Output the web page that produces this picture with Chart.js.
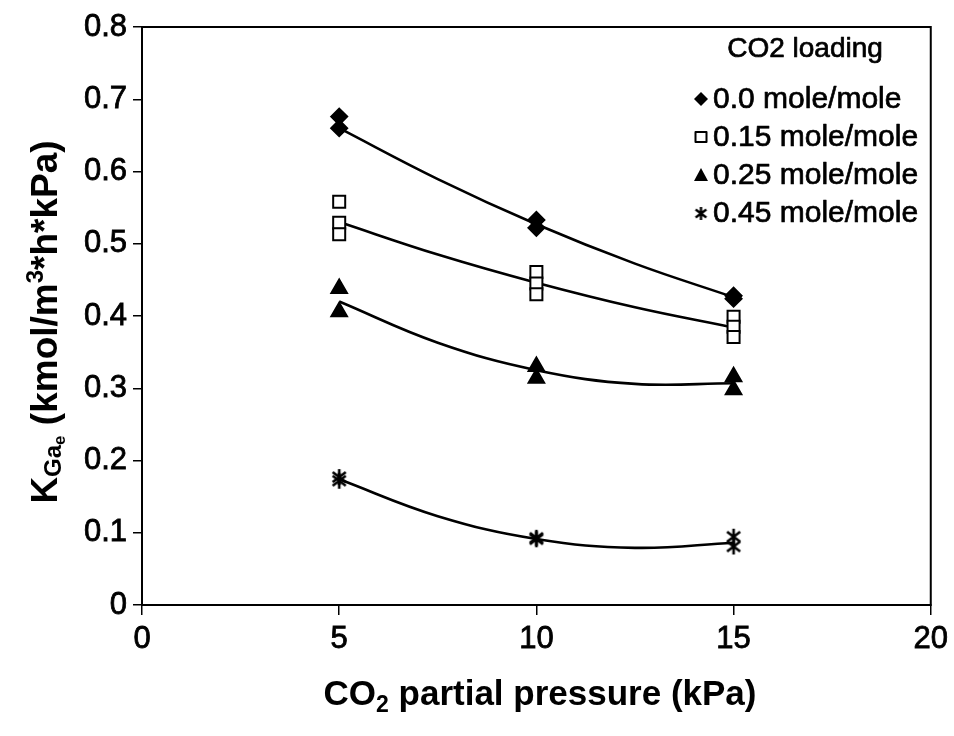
<!DOCTYPE html>
<html>
<head>
<meta charset="utf-8">
<script src="https://cdn.jsdelivr.net/npm/chart.js@4/dist/chart.umd.min.js"></script>
<style>
  html, body { margin: 0; padding: 0; background: #fff; }
  #wrap { width: 954px; height: 736px; }
</style>
</head>
<body>
<div id="wrap"><canvas id="c" width="954" height="736"></canvas></div>
<script>
// CO2 partial pressure (kPa) of each replicate measurement
const xLoad00 = [5, 5, 10, 10, 15, 15];
const xLoad15 = [5, 5, 5, 10, 10, 10, 15, 15, 15];
const xLoad25 = [5, 5, 10, 10, 15, 15];
const xLoad45 = [5, 5, 10, 10, 15, 15];

// Measured KGae (kmol/m3*h*kPa)
const yLoad00 = [0.676, 0.660, 0.533, 0.522, 0.428, 0.424];
const yLoad15 = [0.558, 0.529, 0.513, 0.461, 0.445, 0.430, 0.399, 0.385, 0.371];
const yLoad25 = [0.438, 0.406, 0.330, 0.314, 0.316, 0.298];
const yLoad45 = [0.177, 0.172, 0.093, 0.091, 0.0945, 0.081];

// Trend curves through each loading series
const fitX = [5, 7.5, 10, 12.5, 15];
const fit00 = [0.660, 0.5895, 0.527, 0.4725, 0.426];
const fit15 = [0.530, 0.485, 0.446, 0.412, 0.384];
const fit25 = [0.420, 0.363, 0.325, 0.306, 0.307];
const fit45 = [0.174, 0.123, 0.0913, 0.0791, 0.0862];

// Legend labels and axis ticks
const loadingLabels = ['0.0 mole/mole', '0.15 mole/mole', '0.25 mole/mole', '0.45 mole/mole'];
const legendTitle = 'CO2 loading';
const xTicks = [0, 5, 10, 15, 20];
const yTicks = [0, 0.1, 0.2, 0.3, 0.4, 0.5, 0.6, 0.7, 0.8];

const FONT = '"Liberation Sans", Arial, sans-serif';

function pts(xs, ys) { return xs.map((x, i) => ({ x: x, y: ys[i] })); }

// asterisk marker: vertical bar crossed by an X
function makeAsterisk(size, lw) {
  const cv = document.createElement('canvas');
  cv.width = size; cv.height = size;
  const g = cv.getContext('2d');
  const m = size / 2, r = size / 2 - 1;
  g.strokeStyle = '#000'; g.lineWidth = lw; g.lineCap = 'butt';
  g.beginPath();
  g.moveTo(m, m - r); g.lineTo(m, m + r);
  const dx = r * 0.82, dy = r * 0.62;
  g.moveTo(m - dx, m - dy); g.lineTo(m + dx, m + dy);
  g.moveTo(m + dx, m - dy); g.lineTo(m - dx, m + dy);
  g.stroke();
  return cv;
}
const asteriskBig = makeAsterisk(18, 2.6);
const asteriskSmall = makeAsterisk(15, 2.4);

function marker(label, xs, ys, style, radius, fill) {
  return {
    type: 'scatter', label: label, data: pts(xs, ys), showLine: false,
    pointStyle: style, pointRadius: radius, pointHoverRadius: radius,
    pointBackgroundColor: fill, pointBorderColor: '#000', pointBorderWidth: 2,
    order: 1
  };
}
function trend(ys) {
  return {
    type: 'line', label: '', data: pts(fitX, ys), showLine: true,
    borderColor: '#000', borderWidth: 2.6, pointRadius: 0, tension: 0.4,
    fill: false, isTrend: true, order: 2
  };
}

// text with a thin outline so the glyphs read a little heavier
function heavyText(ctx, s, x, y, w) {
  ctx.lineWidth = w; ctx.strokeStyle = '#000'; ctx.lineJoin = 'round';
  ctx.strokeText(s, x, y);
  ctx.fillText(s, x, y);
}

// plot frame, axis titles with sub/superscripts, legend
const decorations = {
  id: 'decorations',
  afterDraw(chart) {
    const ctx = chart.ctx, a = chart.chartArea;
    ctx.save();
    ctx.strokeStyle = '#000'; ctx.lineWidth = 2;
    ctx.strokeRect(a.left, a.top, a.right - a.left, a.bottom - a.top);

    ctx.fillStyle = '#000';
    ctx.textBaseline = 'alphabetic';
    // x title: CO2 partial pressure (kPa)
    const big = 'bold 35px ' + FONT, sub = 'bold 23px ' + FONT;
    const partsX = [['CO', big, 0], ['2', sub, 7], [' partial pressure (kPa)', big, 0]];
    drawRuns(ctx, partsX, 540, 705);

    // y title: KGae (kmol/m3*h*kPa), rotated
    ctx.save();
    ctx.translate(57, 322);
    ctx.rotate(-Math.PI / 2);
    const bigY = 'bold 37px ' + FONT;
    const partsY = [['K', bigY, 0], ['Ga', 'bold 24px ' + FONT, 4], ['e', 'bold 17px ' + FONT, 8],
                    [' (kmol/m', bigY, 0], ['3', 'bold 24px ' + FONT, -14], ['*h*kPa)', bigY, 0]];
    drawRuns(ctx, partsY, 0, 0);
    ctx.restore();

    // legend
    ctx.font = '28px ' + FONT;
    ctx.textAlign = 'center';
    ctx.textBaseline = 'middle';
    heavyText(ctx, legendTitle, 805, 49, 0.7);
    ctx.textAlign = 'left';
    ctx.font = '30px ' + FONT;
    const rows = [99, 137, 175, 213];
    const markers = chart.data.datasets.filter(d => !d.isTrend);
    markers.forEach((d, i) => {
      const y = rows[i], x = 701;
      drawLegendMarker(ctx, d.pointStyle, x, y);
      ctx.fillStyle = '#000';
      heavyText(ctx, d.label, 713, y + 1, 0.7);
    });
    ctx.restore();
  }
};

function drawRuns(ctx, parts, cx, baseline) {
  let total = 0;
  parts.forEach(p => { ctx.font = p[1]; total += ctx.measureText(p[0]).width; });
  let x = cx - total / 2;
  ctx.textAlign = 'left';
  parts.forEach(p => {
    ctx.font = p[1];
    ctx.fillText(p[0], x, baseline + p[2]);
    x += ctx.measureText(p[0]).width;
  });
}

function drawLegendMarker(ctx, style, x, y) {
  ctx.save();
  ctx.fillStyle = '#000'; ctx.strokeStyle = '#000';
  if (style === 'rectRot') {
    const r = 7;
    ctx.beginPath();
    ctx.moveTo(x, y - r); ctx.lineTo(x + r, y); ctx.lineTo(x, y + r); ctx.lineTo(x - r, y);
    ctx.closePath(); ctx.fill();
  } else if (style === 'rect') {
    ctx.lineWidth = 2;
    ctx.fillStyle = '#fff';
    ctx.fillRect(x - 5.5, y - 5, 11, 10);
    ctx.strokeRect(x - 5.5, y - 5, 11, 10);
  } else if (style === 'triangle') {
    ctx.beginPath();
    ctx.moveTo(x, y - 7); ctx.lineTo(x + 7, y + 6); ctx.lineTo(x - 7, y + 6);
    ctx.closePath(); ctx.fill();
  } else {
    ctx.drawImage(asteriskSmall, x - 7.5, y - 7);
  }
  ctx.restore();
}

const tickFont = { family: FONT, size: 31 };

const chart = new Chart(document.getElementById('c'), {
  data: {
    datasets: [
      marker(loadingLabels[0], xLoad00, yLoad00, 'rectRot', 8, '#000'),
      marker(loadingLabels[1], xLoad15, yLoad15, 'rect', 8.5, '#fff'),
      marker(loadingLabels[2], xLoad25, yLoad25, 'triangle', 9, '#000'),
      marker(loadingLabels[3], xLoad45, yLoad45, asteriskBig, 9, '#000'),
      trend(fit00), trend(fit15), trend(fit25), trend(fit45)
    ]
  },
  options: {
    responsive: false,
    animation: false,
    layout: { padding: { left: 0, top: 27, right: 21, bottom: 0 } },
    plugins: { legend: { display: false }, tooltip: { enabled: false }, title: { display: false } },
    scales: {
      x: {
        type: 'linear', min: 0, max: 20,
        afterBuildTicks: s => { s.ticks = xTicks.map(v => ({ value: v })); },
        afterFit: s => { s.height = 131; },
        grid: { drawOnChartArea: false, drawTicks: true, tickLength: 10, color: '#000', lineWidth: 1.5 },
        border: { color: '#000', width: 2 },
        ticks: { color: '#000', font: tickFont, padding: 6, maxRotation: 0,
                 textStrokeColor: '#000', textStrokeWidth: 0.8 }
      },
      y: {
        type: 'linear', min: 0, max: 0.8,
        afterBuildTicks: s => { s.ticks = yTicks.map(v => ({ value: v })); },
        afterFit: s => { s.width = 142; },
        grid: { drawOnChartArea: false, drawTicks: true, tickLength: 9, color: '#000', lineWidth: 1.5 },
        border: { color: '#000', width: 2 },
        ticks: { color: '#000', font: tickFont, padding: 6,
                 textStrokeColor: '#000', textStrokeWidth: 0.8,
                 callback: v => String(Math.round(v * 10) / 10) }
      }
    }
  },
  plugins: [decorations]
});
</script>
</body>
</html>
